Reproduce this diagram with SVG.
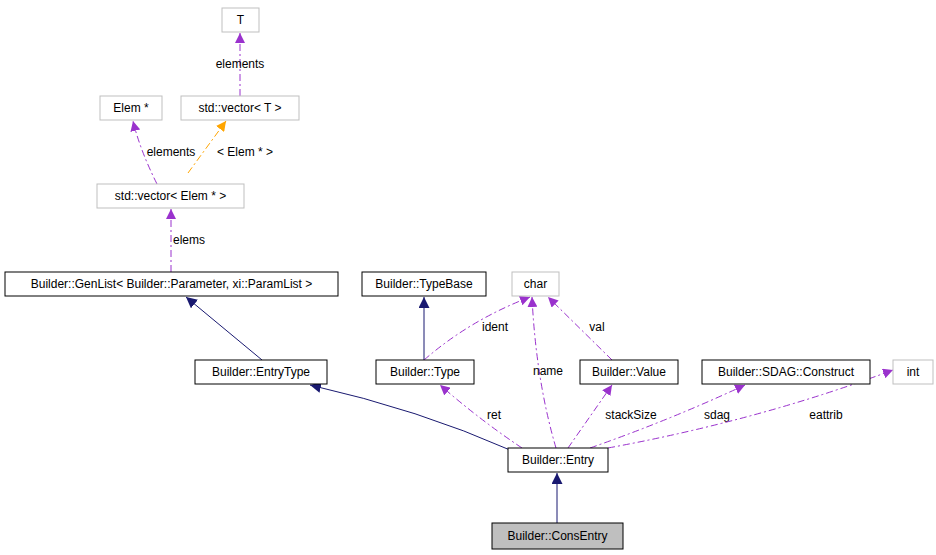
<svg xmlns="http://www.w3.org/2000/svg" width="936" height="555" viewBox="0 0 936 555">
<style>
text{font-family:"Liberation Sans",Arial,sans-serif;font-size:12px;fill:#000}
.n{fill:#fff;stroke:#000;stroke-width:1}
.g{fill:#fff;stroke:#bfbfbf;stroke-width:1}
.c{text-anchor:middle}
.p{fill:none;stroke:#9a32cd;stroke-dasharray:7,3,2,3}
.o{fill:none;stroke:#ffa500;stroke-dasharray:7,3,2,3}
.b{fill:none;stroke:#191970}
</style>
<defs>
<marker id="mp" viewBox="0 0 10 10" refX="10" refY="5" markerWidth="10" markerHeight="10" markerUnits="userSpaceOnUse" orient="auto"><path d="M0,0L10,5L0,10z" fill="#9a32cd"/></marker>
<marker id="mo" viewBox="0 0 10 10" refX="10" refY="5" markerWidth="10" markerHeight="10" markerUnits="userSpaceOnUse" orient="auto"><path d="M0,0L10,5L0,10z" fill="#ffa500"/></marker>
<marker id="mb" viewBox="0 0 10 10" refX="10" refY="5" markerWidth="11" markerHeight="11" markerUnits="userSpaceOnUse" orient="auto"><path d="M0,0L10,5L0,10z" fill="#191970"/></marker>
</defs>
<rect width="936" height="555" fill="#fff"/>
<g id="edges">
<path class="p" d="M240,96V33" marker-end="url(#mp)"/>
<text x="240" y="68" class="c" style="font-size:12px">elements</text>
<path class="p" d="M157,184Q140,150 133,121" marker-end="url(#mp)"/>
<text x="171" y="156" class="c">elements</text>
<path class="o" d="M188,173L226,121" marker-end="url(#mo)"/>
<text x="245" y="156" class="c">&lt; Elem * &gt;</text>
<path class="p" d="M171,272V209" marker-end="url(#mp)"/>
<text x="189" y="244" class="c">elems</text>
<path class="b" d="M262,360L186,297" marker-end="url(#mb)"/>
<path class="b" d="M424,360V297" marker-end="url(#mb)"/>
<path class="p" d="M424,360Q470,320 530,297" marker-end="url(#mp)"/>
<text x="495" y="331" class="c">ident</text>
<path class="p" d="M612,360L548,297" marker-end="url(#mp)"/>
<text x="597" y="331" class="c">val</text>
<path class="p" d="M556,448Q536,380 532,297" marker-end="url(#mp)"/>
<text x="548" y="375" class="c">name</text>
<path class="p" d="M522,448Q480,420 440,385" marker-end="url(#mp)"/>
<text x="494" y="419" class="c">ret</text>
<path class="p" d="M568,448L612,385" marker-end="url(#mp)"/>
<text x="631" y="419" class="c">stackSize</text>
<path class="p" d="M590,448Q670,420 745,385" marker-end="url(#mp)"/>
<text x="717" y="419" class="c">sdag</text>
<path class="p" d="M608,448Q760,420 893,370" marker-end="url(#mp)"/>
<text x="826" y="419" class="c">eattrib</text>
<path class="b" d="M510,450Q420,410 310,385" marker-end="url(#mb)"/>
<path class="b" d="M557,523V473" marker-end="url(#mb)"/>
</g>
<g id="T"><rect class="g" x="222" y="8" width="37" height="24"/><text x="240.5" y="24" class="c">T</text></g>
<g id="Elem"><rect class="g" x="100" y="96" width="62" height="24"/><text x="131" y="112" class="c">Elem *</text></g>
<g id="vecT"><rect class="g" x="181" y="96" width="118" height="24"/><text x="240" y="112" class="c">std::vector&lt; T &gt;</text></g>
<g id="vecElem"><rect class="g" x="97" y="184" width="147" height="24"/><text x="170.5" y="200" class="c">std::vector&lt; Elem * &gt;</text></g>
<g id="GenList"><rect class="n" x="5" y="272" width="333" height="24"/><text x="171.5" y="288" class="c">Builder::GenList&lt; Builder::Parameter, xi::ParamList &gt;</text></g>
<g id="TypeBase"><rect class="n" x="362" y="272" width="124" height="24"/><text x="424" y="288" class="c">Builder::TypeBase</text></g>
<g id="char"><rect class="g" x="512" y="272" width="47" height="24"/><text x="535.5" y="288" class="c">char</text></g>
<g id="EntryType"><rect class="n" x="195" y="360" width="132" height="24"/><text x="261" y="376" class="c">Builder::EntryType</text></g>
<g id="Type"><rect class="n" x="376" y="360" width="98" height="24"/><text x="425" y="376" class="c">Builder::Type</text></g>
<g id="Value"><rect class="n" x="580" y="360" width="98" height="24"/><text x="629" y="376" class="c">Builder::Value</text></g>
<g id="Construct"><rect class="n" x="702" y="360" width="168" height="24"/><text x="786" y="376" class="c">Builder::SDAG::Construct</text></g>
<g id="int"><rect class="g" x="893" y="360" width="40" height="24"/><text x="913" y="376" class="c">int</text></g>
<g id="Entry"><rect class="n" x="508" y="448" width="100" height="24"/><text x="558" y="464" class="c">Builder::Entry</text></g>
<g id="ConsEntry"><rect x="492" y="523" width="131" height="26" fill="#bfbfbf" stroke="#000"/><text x="557.5" y="540" class="c">Builder::ConsEntry</text></g>
</svg>
